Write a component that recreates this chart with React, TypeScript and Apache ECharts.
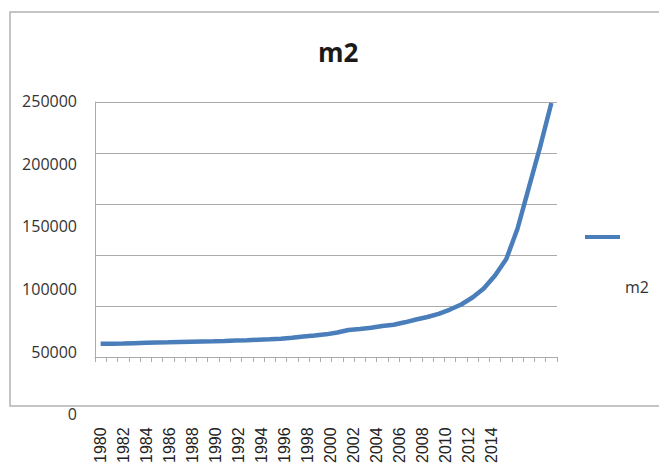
import React, { useEffect, useRef } from "react";
import * as echarts from "echarts";

const years: string[] = [];
for (let y = 1980; y <= 2020; y++) years.push(String(y));

const m2Values = [
  12900, 13100, 13300, 13600, 13900, 14200, 14400, 14700, 15000, 15200,
  15400, 15700, 16200, 16500, 16900, 17300, 17800, 18800, 20100, 21100,
  22200, 24000, 26500, 27400, 28600, 30400, 31600, 34000, 36800, 39200,
  42300, 46500, 51500, 58300, 67100, 79900, 96000, 126000, 166000, 206000,
  249000,
];

const yTicks = { min: 0, max: 250000, interval: 50000 };
const seriesName = "m2";
const chartTitle = "m2";

export default function App() {
  const ref = useRef<HTMLDivElement>(null);
  useEffect(() => {
    document.body.style.margin = "0";
    const chart = echarts.init(ref.current!, null, { renderer: "svg" });
    const gray = "#ababab";
    chart.setOption({
      animation: false,
      backgroundColor: "#ffffff",
      title: {
        text: chartTitle,
        left: 313,
        top: 34,
        textStyle: {
          fontFamily: "Open Sans",
          fontWeight: "bold",
          fontSize: 26,
          color: "#1a1a1a",
        },
      },
      legend: {
        data: [seriesName],
        left: 580,
        top: 166,
        icon: "rect",
        itemWidth: 35,
        itemHeight: 4,
        itemGap: 5,
        formatter: (name: string) => "\n\n\n" + name,
        textStyle: {
          fontFamily: "Open Sans",
          fontSize: 16,
          lineHeight: 33,
          color: "#333333",
        },
      },
      graphic: [
        {
          type: "rect",
          shape: { x: 10, y: 12, width: 700, height: 394 },
          style: { fill: "none", stroke: "#b3b3b3", lineWidth: 1.5 },
          silent: true,
          z: -1,
        },
      ],
      grid: [
        { left: 95, top: 102, width: 462, height: 255 },
        { left: 95, top: 101, width: 471, height: 318 },
      ],
      xAxis: [
        {
          type: "category",
          gridIndex: 0,
          data: years,
          boundaryGap: true,
          axisLine: { show: true, lineStyle: { color: gray, width: 1 } },
          axisTick: { show: true, interval: 0, length: 5, lineStyle: { color: gray } },
          axisLabel: { show: false },
          splitLine: { show: false },
        },
        {
          type: "category",
          gridIndex: 1,
          data: years,
          boundaryGap: true,
          axisLine: { show: false },
          axisTick: { show: false },
          splitLine: { show: false },
          axisLabel: {
            show: true,
            rotate: 90,
            margin: 13,
            interval: (index: number) => index % 2 === 0 && index <= 34,
            fontFamily: "Liberation Sans",
            fontSize: 16,
            color: "#222222",
          },
        },
      ],
      yAxis: [
        {
          type: "value",
          gridIndex: 0,
          min: yTicks.min,
          max: yTicks.max,
          interval: yTicks.interval,
          axisLine: { show: true, lineStyle: { color: gray, width: 1 } },
          axisTick: { show: false },
          axisLabel: { show: false },
          splitLine: { show: true, lineStyle: { color: gray, width: 1 } },
        },
        {
          type: "value",
          gridIndex: 1,
          min: yTicks.min,
          max: yTicks.max,
          interval: yTicks.interval,
          axisLine: { show: false },
          axisTick: { show: false },
          splitLine: { show: false },
          axisLabel: {
            show: true,
            margin: 18,
            formatter: (v: number) => String(v),
            fontFamily: "Open Sans",
            fontSize: 16,
            color: "#333333",
          },
        },
      ],
      series: [
        {
          name: seriesName,
          type: "line",
          xAxisIndex: 0,
          yAxisIndex: 0,
          data: m2Values,
          showSymbol: false,
          symbol: "none",
          itemStyle: { color: "#4a7ebb" },
          lineStyle: { color: "#4a7ebb", width: 4.5 },
        },
      ],
    });
    return () => chart.dispose();
  }, []);
  return (
    <div
      ref={ref}
      style={{ position: "absolute", left: 0, top: 0, width: 659, height: 466 }}
    />
  );
}
